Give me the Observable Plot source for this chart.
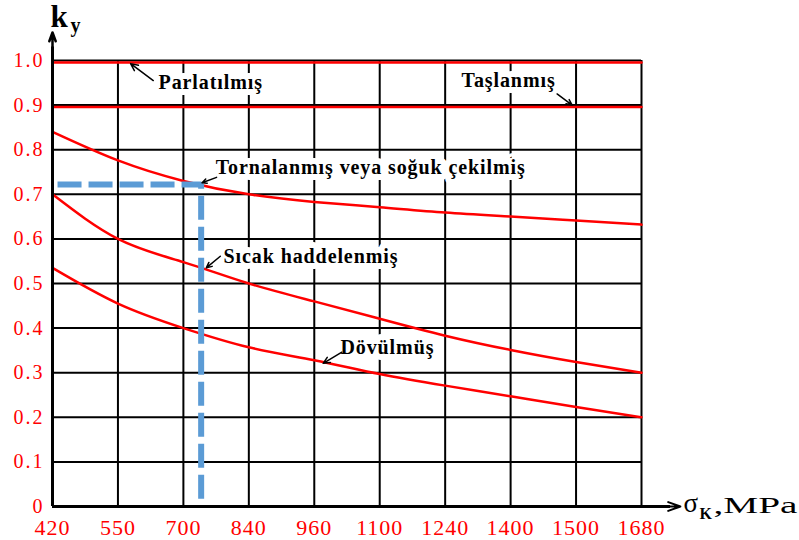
<!DOCTYPE html>
<html><head><meta charset="utf-8">
<script src="https://cdn.jsdelivr.net/npm/d3@7"></script>
<script src="https://cdn.jsdelivr.net/npm/@observablehq/plot@0.6"></script>
<style>
body{margin:0;background:#fff}
g[aria-label="y-axis tick label"] text{letter-spacing:2px}
g[aria-label="x-axis tick label"] text{letter-spacing:1px}
</style>
</head><body><div id="chart"></div>
<script>
// x categories (σK, MPa) – drawn evenly spaced as in the original nomogram
const sigma = [420, 550, 700, 840, 960, 1100, 1240, 1400, 1500, 1680];
const yTicks = [0, 0.1, 0.2, 0.3, 0.4, 0.5, 0.6, 0.7, 0.8, 0.9, 1.0];
const yTickLabels = ["0", "0.1", "0.2", "0.3", "0.4", "0.5", "0.6", "0.7", "0.8", "0.9", "1.0"];

// series (ky)
const parlatilmis = [1.0, 1.0, 1.0, 1.0, 1.0, 1.0, 1.0, 1.0, 1.0, 1.0];
const taslanmis   = [0.9, 0.9, 0.9, 0.9, 0.9, 0.9, 0.9, 0.9, 0.9, 0.9];
const tornalanmis = [0.84, 0.776, 0.73, 0.70, 0.683, 0.671, 0.659, 0.650, 0.641, 0.632];
const sicak       = [0.70, 0.60, 0.548, 0.50, 0.460, 0.421, 0.383, 0.351, 0.324, 0.30];
const dovulmus    = [0.535, 0.455, 0.40, 0.357, 0.328, 0.297, 0.271, 0.247, 0.223, 0.20];

// blue reading guide (σK ≈ 740 MPa → ky ≈ 0.722)
const guideX = [430, 738, 738];
const guideY = [0.722, 0.722, 0];

// annotation labels and their leader arrows
const labelText = ["Parlatılmış", "Taşlanmış", "Tornalanmış veya soğuk çekilmiş", "Sıcak haddelenmiş", "Dövülmüş"];
const labelX = [643, 1280, 769, 786, 1016];
const labelY = [0.937, 0.94, 0.746, 0.545, 0.342];
const arrowX1 = [631, 1471, 771, 779, 1019];
const arrowY1 = [0.955, 0.925, 0.738, 0.561, 0.346];
const arrowX2 = [579, 1494, 740, 749, 979];
const arrowY2 = [0.993, 0.90, 0.726, 0.535, 0.321];

const W = 799, H = 540, mL = 52, mR = 158, mT = 60, mB = 34;
const step = (W - mL - mR) / (sigma.length - 1);
const xRange = sigma.map((d, i) => mL + i * step);

const series = (name, vals) => sigma.map((s, i) => ({s, v: vals[i], name}));
const curves = [
  ...series("t", tornalanmis),
  ...series("s", sicak),
  ...series("d", dovulmus)
];
const flats = [...series("p", parlatilmis), ...series("q", taslanmis)];
const guide = guideX.map((x, i) => ({x, y: guideY[i]}));
const labels = labelText.map((t, i) => ({t, x: labelX[i], y: labelY[i]}));
const arrows = arrowX1.map((x1, i) => ({x1, y1: arrowY1[i], x2: arrowX2[i], y2: arrowY2[i]}));

const serif = "Liberation Serif, Times New Roman, serif";

const chart = Plot.plot({
  width: W, height: H,
  marginLeft: mL, marginRight: mR, marginTop: mT, marginBottom: mB,
  style: {background: "white", overflow: "visible"},
  x: {type: "linear", domain: sigma, range: xRange},
  y: {domain: [0, 1]},
  marks: [
    Plot.gridX(sigma, {stroke: "black", strokeOpacity: 1, strokeWidth: 2}),
    Plot.gridY(yTicks, {stroke: "black", strokeOpacity: 1, strokeWidth: 2}),
    Plot.text(labels, {x: "x", y: "y", text: "t", textAnchor: "start", lineAnchor: "bottom",
      fontFamily: serif, fontWeight: "bold", fontSize: 20, fill: "black",
      stroke: "white", strokeWidth: 12, strokeLinejoin: "round"}),
    Plot.line(flats, {x: "s", y: "v", z: "name", stroke: "#ff0000", strokeWidth: 2.5, dy: 2}),
    Plot.line(curves, {x: "s", y: "v", z: "name", stroke: "#ff0000", strokeWidth: 2.5, curve: "natural"}),
    Plot.line(guide, {x: "x", y: "y", stroke: "#5b9bd5", strokeWidth: 6, strokeDasharray: "24,7", strokeLinecap: "butt", strokeLinejoin: "miter"}),
    Plot.arrow(arrows, {x1: "x1", y1: "y1", x2: "x2", y2: "y2", stroke: "black", strokeWidth: 1.5, headLength: 8, headAngle: 50}),
    // axes
    Plot.ruleX([420], {y1: 0, y2: 1.03, stroke: "black", strokeWidth: 3}),
    Plot.ruleY([0], {x1: 420, x2: 1760, stroke: "black", strokeWidth: 3}),
    Plot.arrow([{x1: 420, y1: 1.0, x2: 420, y2: 1.063}], {x1: "x1", y1: "y1", x2: "x2", y2: "y2", stroke: "black", strokeWidth: 2.5, headLength: 12, headAngle: 40}),
    Plot.arrow([{x1: 1680, y1: 0, x2: 1787, y2: 0}], {x1: "x1", y1: "y1", x2: "x2", y2: "y2", stroke: "black", strokeWidth: 2, headLength: 12, headAngle: 40}),
    Plot.axisX(sigma, {ticks: sigma, tickSize: 0, tickPadding: 13, tickFormat: d => String(d),
      fill: "#ff0000", fontSize: 22, fontFamily: serif, label: null}),
    Plot.axisY(yTicks, {ticks: yTicks, tickSize: 0, tickPadding: 8, tickFormat: (d, i) => yTickLabels[i],
      fill: "#ff0000", fontSize: 20, fontFamily: serif, label: null}),
    // axis titles
    Plot.text(["k"], {frameAnchor: "top-left", dx: -2, dy: 26 - mT, text: d => d, textAnchor: "start", lineAnchor: "bottom",
      fontFamily: serif, fontWeight: "bold", fontSize: 31, fill: "black"}),
    Plot.text(["y"], {frameAnchor: "top-left", dx: 18, dy: 31 - mT, text: d => d, textAnchor: "start", lineAnchor: "bottom",
      fontFamily: serif, fontWeight: "bold", fontSize: 20, fill: "black"}),
    Plot.text(["σ"], {frameAnchor: "bottom-right", dx: 683 - (W - mR), dy: 511 - (H - mB), text: d => d, textAnchor: "start", lineAnchor: "bottom",
      fontFamily: serif, fontSize: 27, fill: "black"}),
    Plot.text(["K"], {frameAnchor: "bottom-right", dx: 699 - (W - mR), dy: 518 - (H - mB), text: d => d, textAnchor: "start", lineAnchor: "bottom",
      fontFamily: serif, fontWeight: "bold", fontSize: 16, fill: "black"}),
    Plot.text([",MPa"], {frameAnchor: "bottom-right", dx: 713 - (W - mR), dy: 512 - (H - mB), text: d => d, textAnchor: "start", lineAnchor: "bottom",
      fontFamily: serif, fontSize: 23, fill: "black"})
  ]
});
// horizontal stretch of the lettering, as in the original scan
d3.select(chart).selectAll("text").each(function() {
  const t = this.textContent;
  if (labelText.includes(t)) this.style.letterSpacing = "0.9px";
  if (t === ",MPa") { this.setAttribute("textLength", 84); this.setAttribute("lengthAdjust", "spacingAndGlyphs"); }
});
document.getElementById("chart").appendChild(chart);
</script>
</body></html>
